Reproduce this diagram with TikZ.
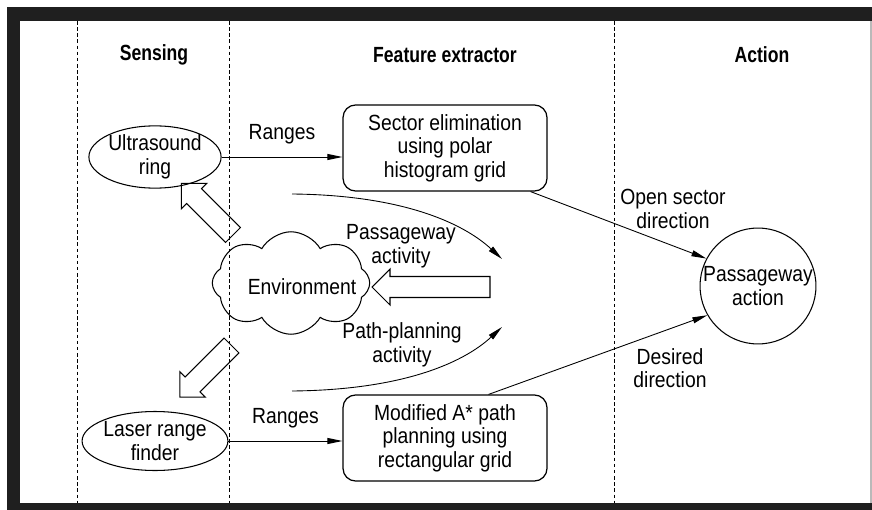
\documentclass[tikz,border=0pt]{standalone}
\usepackage{fontspec}
\setmainfont{Liberation Sans}[FakeStretch=0.88]
\newfontfamily\headfont{Liberation Sans}[FakeStretch=0.8]
\usetikzlibrary{arrows.meta,shapes.geometric,shapes.symbols}

% hollow block arrow: tail point, direction, length
\newcommand{\fatarrow}[3]{%
  \draw[line width=0.6pt,shift={#1},rotate=#2]
    (0,-10.5) -- ({#3-18},-10.5) -- ({#3-18},-18) -- (#3,0)
    -- ({#3-18},18) -- ({#3-18},10.5) -- (0,10.5) -- cycle;}

\begin{document}
\begin{tikzpicture}[x=0.02cm,y=-0.02cm,
    font=\fontsize{12.5pt}{13.4pt}\selectfont,
    sense/.style={ellipse,draw,line width=0.6pt,minimum width=2.56cm,minimum height=1.18cm,inner sep=0pt,align=center},
    proc/.style={rectangle,draw,line width=0.7pt,rounded corners=0.25cm,minimum width=4.08cm,minimum height=1.72cm,inner sep=0pt,align=center},
    act/.style={circle,draw,line width=0.6pt,minimum size=2.24cm,inner sep=0pt,align=center},
    env/.style={cloud,draw,line width=0.6pt,cloud puffs=8,cloud puff arc=120,aspect=1.5,minimum width=3.15cm,minimum height=2.05cm,inner sep=0pt},
    head/.style={font=\headfont\bfseries\fontsize{12.5pt}{13.4pt}\selectfont},
    lbl/.style={align=center,inner sep=0pt},
    conn/.style={line width=0.5pt,-{Triangle[length=0.3cm,width=0.12cm]}},
    lane/.style={line width=0.5pt,dash pattern=on 2pt off 1.5pt}]
    \useasboundingbox (0,0) rectangle (872,510);

    % frame
    \fill[black!88] (7,7) rectangle (872,510);
    \fill[white] (20,21) rectangle (869.5,503);
    \fill[gray!55] (869.5,21) rectangle (872,503);
    \foreach \x in {77,229,614}
        \draw[lane] (\x,21) -- (\x,503);

    \node[head] (hsense) at (154,55) {Sensing};
    \node[head] (hfeat) at (445,55) {Feature extractor};
    \node[head] (hact) at (762,55) {Action};

    \node[sense] (ultra) at (155,157) {Ultrasound\\ring};
    \node[sense] (laser) at (155,441) {Laser range\\finder};
    \node[proc] (sector) at (445,148) {Sector elimination\\using polar\\histogram grid};
    \node[proc] (astar) at (445,438) {Modified A* path\\planning using\\rectangular grid};
    \node[act] (pass) at (758,286) {Passageway\\action};
    \node[env] (world) at (291,283) {};
    \node (wtext) at (302,287) {Environment};

    \draw[conn] (ultra) -- node[above=4pt] {Ranges} (ultra -| sector.west);
    \draw[conn] (laser) -- node[above=4pt] {Ranges} (laser -| astar.west);
    \draw[conn] (sector.-27) -- (pass.152);
    \draw[conn] (astar.45) -- (pass.210);
    \node[lbl] (lopen) at (673,209) {Open sector\\direction};
    \node[lbl] (ldes) at (670,368) {Desired\\direction};

    \coordinate (pa0) at (292,194);
    \coordinate (pa1) at (502,259);
    \coordinate (pp0) at (292,391);
    \coordinate (pp1) at (502,327);
    \draw[conn] (pa0) .. controls (400,195) and (462,222) .. (pa1);
    \draw[conn] (pp0) .. controls (400,390) and (462,364) .. (pp1);
    \node[lbl] (lpa) at (401,246) {Passageway\\activity};
    \node[lbl] (lpp) at (402,345) {Path-planning\\activity};

    \fatarrow{(490,287)}{180}{118}
    \fatarrow{(233,235)}{135}{73}
    \fatarrow{(231.5,345.5)}{225}{73}
\end{tikzpicture}
\end{document}
